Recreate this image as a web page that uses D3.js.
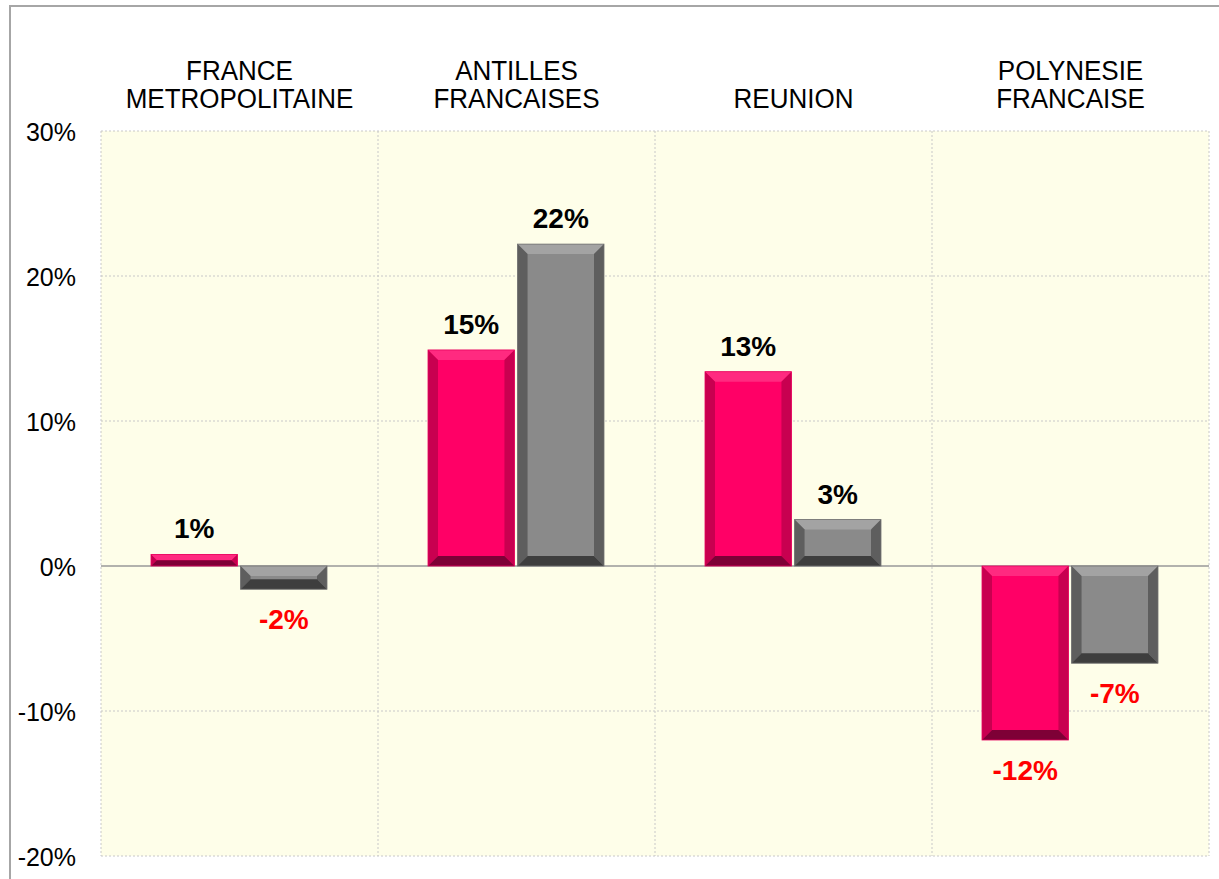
<!DOCTYPE html>
<meta charset="utf-8" />
<script src="https://d3js.org/d3.v7.min.js"></script>
<style>
    body { margin: 0; background: #fff; }
    text { font-family: Arial, 'Liberation Sans', sans-serif; }
</style>
<div id="chart"></div>
<script>
    // data
    const categories = [
        ['FRANCE', 'METROPOLITAINE'],
        ['ANTILLES', 'FRANCAISES'],
        ['REUNION'],
        ['POLYNESIE', 'FRANCAISE']
    ]
    const seriesA = [0.8, 14.9, 13.4, -12.0]   // pink
    const seriesB = [-1.6, 22.2, 3.2, -6.7]    // gray
    const yTicks = [-20, -10, 0, 10, 20, 30]

    const W = 1219, H = 879
    const margin = { top: 131, right: 10, bottom: 23, left: 101 }
    const width = W - margin.left - margin.right
    const height = H - margin.top - margin.bottom

    const svg = d3.select('#chart').append('svg')
        .attr('width', W).attr('height', H)

    // outer frame (cut at the right and bottom)
    svg.append('rect')
        .attr('x', 10).attr('y', 6)
        .attr('width', W + 20).attr('height', H + 20)
        .attr('fill', 'none').attr('stroke', '#a6a6a6').attr('stroke-width', 2)

    const g = svg.append('g').attr('transform', `translate(${margin.left},${margin.top})`)

    const x = d3.scaleBand().domain(d3.range(categories.length)).range([0, width])
    const y = d3.scaleLinear().domain([-20, 30]).range([height, 0])

    // plot background
    g.append('rect').attr('width', width).attr('height', height).attr('fill', '#fefee9')

    // gridlines
    g.selectAll('.hgrid').data(yTicks.filter(t => t !== 0)).join('line')
        .attr('x1', 0).attr('x2', width)
        .attr('y1', d => y(d)).attr('y2', d => y(d))
        .attr('stroke', '#c8c8c8').attr('stroke-dasharray', '2,2')
    g.selectAll('.vgrid').data(d3.range(categories.length + 1)).join('line')
        .attr('x1', d => d * x.bandwidth()).attr('x2', d => d * x.bandwidth())
        .attr('y1', 0).attr('y2', height)
        .attr('stroke', '#c8c8c8').attr('stroke-dasharray', '2,2')

    // y axis labels
    g.selectAll('.ytick').data(yTicks).join('text')
        .attr('x', -25).attr('y', d => y(d) + 9.5)
        .attr('text-anchor', 'end').attr('font-size', 25).attr('fill', '#000')
        .text(d => d + '%')

    // category labels at top
    categories.forEach((lines, i) => {
        const cx = x(i) + x.bandwidth() / 2
        const y0 = lines.length === 2 ? -51 : -23
        lines.forEach((l, k) => {
            g.append('text')
                .attr('transform', `translate(${cx},${y0 + k * 28}) scale(1,1.07)`)
                .attr('text-anchor', 'middle').attr('font-size', 26).attr('fill', '#000')
                .text(l)
        })
    })

    const inner = d3.scaleBand().domain([0, 1]).range([50, x.bandwidth() - 51]).paddingInner(0.035)

    const colors = [
        { main: '#ff0066', top: '#ff2a80', side: '#c80050', bottom: '#7e0036', edge: '#e6005c' },
        { main: '#8a8a8a', top: '#a3a3a3', side: '#5e5e5e', bottom: '#3e3e3e', edge: '#707070' }
    ]

    function bevelBar(sel, x0, y0, w, h, c) {
        const b = Math.min(10, h / 2, w / 2)
        const x1 = x0 + w, y1 = y0 + h
        sel.append('rect').attr('x', x0).attr('y', y0).attr('width', w).attr('height', h).attr('fill', c.main)
        const poly = (pts, fill) => sel.append('polygon')
            .attr('points', pts.map(p => p.join(',')).join(' ')).attr('fill', fill)
        poly([[x0, y0], [x1, y0], [x1 - b, y0 + b], [x0 + b, y0 + b]], c.top)
        poly([[x0, y0], [x0 + b, y0 + b], [x0 + b, y1 - b], [x0, y1]], c.side)
        poly([[x1, y0], [x1, y1], [x1 - b, y1 - b], [x1 - b, y0 + b]], c.side)
        poly([[x0, y1], [x0 + b, y1 - b], [x1 - b, y1 - b], [x1, y1]], c.bottom)
        sel.append('rect').attr('x', x0).attr('y', y0).attr('width', w).attr('height', h)
            .attr('fill', 'none').attr('stroke', c.edge).attr('stroke-width', 0.8)
    }

    // zero line
    g.append('line').attr('x1', 0).attr('x2', width).attr('y1', y(0)).attr('y2', y(0))
        .attr('stroke', '#999').attr('stroke-width', 1.5)

    const series = [seriesA, seriesB]
    series.forEach((vals, s) => {
        vals.forEach((v, i) => {
            const bx = x(i) + inner(s)
            const top = y(Math.max(0, v)), bot = y(Math.min(0, v))
            bevelBar(g.append('g'), bx, top, inner.bandwidth(), bot - top, colors[s])
            g.append('text')
                .attr('x', bx + inner.bandwidth() / 2)
                .attr('y', v >= 0 ? top - 16 : bot + 40)
                .attr('text-anchor', 'middle').attr('font-size', 28).attr('font-weight', 'bold')
                .attr('fill', v >= 0 ? '#000' : '#ff0000')
                .text(Math.round(v) + '%')
        })
    })
</script>
